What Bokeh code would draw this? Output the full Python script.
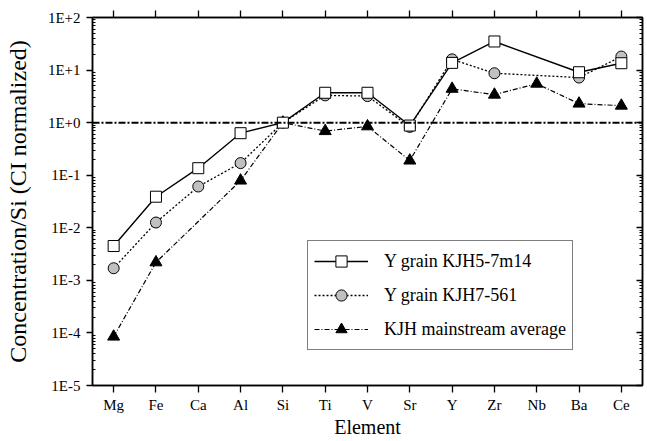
from bokeh.plotting import figure
from bokeh.models import (CategoricalAxis, LogAxis, FixedTicker, CustomJSTickFormatter,
                          Span, Legend, LegendItem)
from bokeh.embed import file_html
from bokeh.resources import INLINE

# Element abundances normalized to Si and CI chondrite
elements = ["Mg", "Fe", "Ca", "Al", "Si", "Ti", "V", "Sr", "Y", "Zr", "Nb", "Ba", "Ce"]
kjh5_7m14 = [4.5e-3, 0.039, 0.136, 0.63, 1.0, 3.7, 3.7, 0.88, 13.7, 35.0, None, 9.1, 13.5]
kjh7_561 = [1.7e-3, 0.0126, 0.061, 0.17, 1.0, 3.3, 3.2, 0.83, 16.0, 8.7, None, 7.2, 18.1]
mainstream = [8.5e-5, 2.2e-3, None, 0.079, 1.0, 0.69, 0.85, 0.19, 4.4, 3.4, 5.5, 2.3, 2.1]

y_major = [1e-5, 1e-4, 1e-3, 1e-2, 1e-1, 1e0, 1e1, 1e2]
FONT = "Liberation Serif"


def present(vals):
    xs = [e for e, v in zip(elements, vals) if v is not None]
    ys = [v for v in vals if v is not None]
    return xs, ys


p = figure(width=647, height=441, x_range=elements, y_range=(1e-5, 1e2),
           y_axis_type="log", x_axis_location=None, y_axis_location=None,
           output_backend="svg", toolbar_location=None,
           min_border_left=92, min_border_right=5, min_border_top=17, min_border_bottom=56)
p.grid.visible = False
p.outline_line_color = "black"
p.outline_line_width = 1.5
p.background_fill_color = "white"
p.border_fill_color = "white"

minor = [k * 10.0 ** e for e in range(-5, 2) for k in range(2, 10)]
ticker = FixedTicker(ticks=y_major, minor_ticks=minor)
fmt = CustomJSTickFormatter(code="""
const e = Math.round(Math.log10(tick));
return '1E' + (e >= 0 ? '+' : '') + e;
""")

left = LogAxis(ticker=ticker, formatter=fmt,
               axis_label="Concentration/Si (CI normalized)",
               axis_label_text_font=FONT, axis_label_text_font_size="24px",
               axis_label_text_font_style="normal", axis_label_standoff=14,
               axis_label_text_color="black",
               major_label_text_font=FONT, major_label_text_font_size="15px",
               major_label_text_color="black", major_label_standoff=6,
               major_tick_out=6, major_tick_in=0, minor_tick_out=0, minor_tick_in=3,
               axis_line_width=1.5, major_tick_line_width=1.3, minor_tick_line_width=1)
p.add_layout(left, "left")

# frame-side axes: ticks only
right = LogAxis(ticker=ticker, major_label_text_font_size="1px", major_label_text_alpha=0,
                major_label_standoff=0,
                major_tick_out=0, major_tick_in=6, minor_tick_out=0, minor_tick_in=3,
                axis_line_width=1.5, major_tick_line_width=1.3, minor_tick_line_width=1)
p.add_layout(right, "right")

bottom = CategoricalAxis(axis_label="Element",
                         axis_label_text_font=FONT, axis_label_text_font_size="20px",
                         axis_label_text_font_style="normal", axis_label_standoff=0,
                         axis_label_text_color="black",
                         major_label_text_font=FONT, major_label_text_font_size="15px",
                         major_label_text_color="black", major_label_standoff=4,
                         major_tick_out=7, major_tick_in=0,
                         axis_line_width=1.5, major_tick_line_width=1.3)
p.add_layout(bottom, "below")

top = CategoricalAxis(major_label_text_font_size="1px", major_label_text_alpha=0,
                      major_label_standoff=0,
                      major_tick_out=7, major_tick_in=0,
                      axis_line_width=1.5, major_tick_line_width=1.3)
p.add_layout(top, "above")

# CI reference level
p.add_layout(Span(location=1.0, dimension="width", line_color="black",
                  line_width=2, line_dash="7 2 2 2"))

xs, ys = present(mainstream)
l3 = p.line(xs, ys, line_color="black", line_width=1.2, line_dash="5 2 1 2")
m3 = p.scatter(xs, ys, marker="triangle", size=12, fill_color="black",
               line_color="black", line_width=1)

xs, ys = present(kjh7_561)
l2 = p.line(xs, ys, line_color="black", line_width=1.3, line_dash="2 2")
m2 = p.scatter(xs, ys, marker="circle", size=11, fill_color="#c0c0c0",
               line_color="black", line_width=1)

xs, ys = present(kjh5_7m14)
l1 = p.line(xs, ys, line_color="black", line_width=1.4)
m1 = p.scatter(xs, ys, marker="square", size=11, fill_color="white",
               line_color="black", line_width=1)

legend = Legend(items=[
    LegendItem(label="Y grain KJH5-7m14", renderers=[l1, m1]),
    LegendItem(label="Y grain KJH7-561", renderers=[l2, m2]),
    LegendItem(label="KJH mainstream average", renderers=[l3, m3]),
], location=(215, 35), label_text_font=FONT, label_text_font_size="18px",
    label_text_color="black",
    glyph_width=54, glyph_height=28, spacing=6, padding=6, label_standoff=16,
    label_height=28, border_line_color="black", border_line_width=1.2,
    background_fill_color="white", background_fill_alpha=1.0, margin=0)
p.add_layout(legend, "center")

open("out.html", "w").write(file_html(p, INLINE))
